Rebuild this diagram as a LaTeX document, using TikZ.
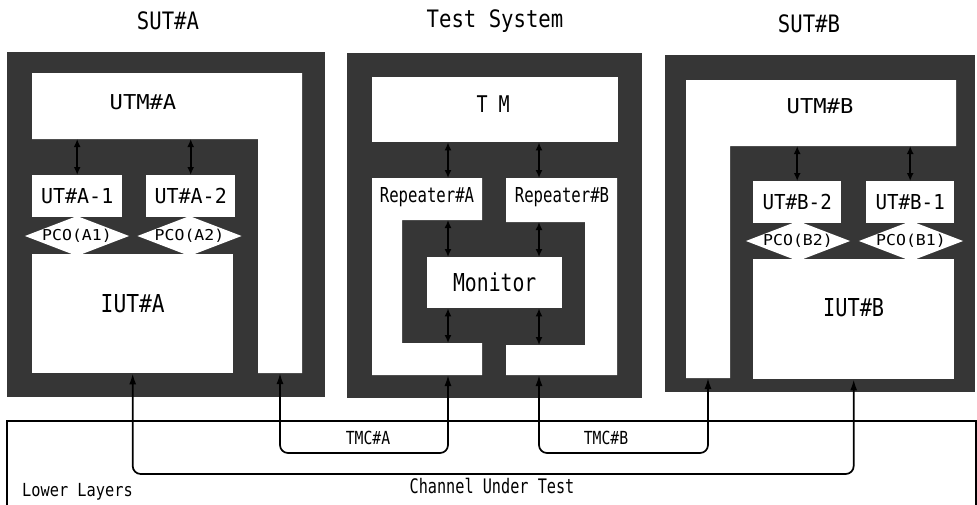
\documentclass[tikz,border=0pt]{standalone}
\usepackage{fontspec}
\usepackage{graphicx}
\setmainfont{DejaVu Sans Mono}
\usetikzlibrary{shapes.geometric,arrows.meta}
\newcommand{\lb}[3]{\fontsize{#1}{#1}\selectfont\scalebox{#2}[1]{#3}}
\begin{document}
\begin{tikzpicture}[x=1pt,y=-1pt,
  panel/.style={fill=black!79, draw=none, anchor=north west, inner sep=0pt},
  wbox/.style={fill=white, draw=none, anchor=north west, inner sep=0pt},
  txt/.style={inner sep=0pt, text=black},
  pco/.style={diamond, fill=white, draw=none, inner sep=0pt, aspect=2.6,
              minimum width=85pt, minimum height=32pt},
  dbl/.style={draw=black, line width=1.6pt, {Latex[length=8pt,width=7pt]}-{Latex[length=8pt,width=7pt]}},
  conn/.style={draw=black, line width=1.7pt, rounded corners=8pt,
               {Latex[length=11pt,width=7pt]}-{Latex[length=11pt,width=7pt]}}]
\useasboundingbox (0,0) rectangle (977,504);
\fill[white] (0,0) rectangle (977,504);

% ---------- titles
\node[txt] (tA) at (168,21) {\lb{24}{0.86}{SUT\#A}};
\node[txt] (tT) at (495,21) {\lb{24}{0.86}{Test System}};
\node[txt] (tB) at (809,24) {\lb{24}{0.86}{SUT\#B}};

% ---------- panels
\node[panel, minimum width=318pt, minimum height=345pt] (pA) at (7,52) {};
\node[panel, minimum width=295pt, minimum height=345pt] (pT) at (347,53) {};
\node[panel, minimum width=310pt, minimum height=337pt] (pB) at (665,55) {};

% ---------- SUT#A
\fill[white] (32,73) -- (302,73) -- (302,373) -- (258,373) -- (258,139) -- (32,139) -- cycle;
\node[txt] (utmA) at (143,102) {\lb{20.5}{1.08}{UTM\#A}};
\coordinate (utmAin) at (32,139);
\coordinate (utmAbot) at (280,373);
\node[wbox, minimum width=90pt, minimum height=42pt] (utA1) at (32,175) {};
\node[txt] at (utA1.center) {\lb{20.6}{0.97}{UT\#A-1}};
\node[wbox, minimum width=89pt, minimum height=42pt] (utA2) at (146,175) {};
\node[txt] at (utA2.center) {\lb{20.6}{0.97}{UT\#A-2}};
\node[pco] (pcoA1) at (77,236) {\lb{15}{1.1}{PCO(A1)}};
\node[pco] (pcoA2) at (189.5,236) {\lb{15}{1.1}{PCO(A2)}};
\node[wbox, minimum width=201pt, minimum height=119pt] (iutA) at (32,254) {};
\node[txt] at ([yshift=10pt]iutA.center) {\lb{24.7}{0.86}{IUT\#A}};
\draw[dbl] (utA1.north) -- (utA1.north |- utmAin);
\draw[dbl] (utA2.north) -- (utA2.north |- utmAin);

% ---------- Test System
\node[wbox, minimum width=246pt, minimum height=65pt] (tm) at (372,77) {};
\node[txt] at ([xshift=-2pt,yshift=6pt]tm.center) {\lb{23}{0.8}{T M}};
\fill[white] (372,178) -- (482,178) -- (482,220) -- (402,220) -- (402,343) -- (482,343) -- (482,375) -- (372,375) -- cycle;
\fill[white] (506,178) -- (617,178) -- (617,375) -- (506,375) -- (506,345) -- (585,345) -- (585,222) -- (506,222) -- cycle;
\node[txt] (repA) at (427,197) {\lb{20.6}{0.76}{Repeater\#A}};
\node[txt] (repB) at (562,197) {\lb{20.6}{0.76}{Repeater\#B}};
\node[wbox, minimum width=135pt, minimum height=51pt] (mon) at (427,257) {};
\node[txt] at (mon.center) {\lb{24.7}{0.8}{Monitor}};
\coordinate (repAtop) at (448,178);
\coordinate (repAin1) at (448,220);
\coordinate (repAin2) at (448,343);
\coordinate (repAbot) at (448,375);
\coordinate (repBtop) at (539,178);
\coordinate (repBin1) at (539,222);
\coordinate (repBin2) at (539,345);
\coordinate (repBbot) at (539,375);
\draw[dbl] (tm.south -| repAtop) -- (repAtop);
\draw[dbl] (tm.south -| repBtop) -- (repBtop);
\draw[dbl] (repAin1) -- (mon.north -| repAin1);
\draw[dbl] (repBin1) -- (mon.north -| repBin1);
\draw[dbl] (mon.south -| repAin2) -- (repAin2);
\draw[dbl] (mon.south -| repBin2) -- (repBin2);

% ---------- SUT#B
\fill[white] (686,80) -- (956,80) -- (956,146) -- (730,146) -- (730,378) -- (686,378) -- cycle;
\node[txt] (utmB) at (820,106) {\lb{20.5}{1.08}{UTM\#B}};
\coordinate (utmBin) at (956,146);
\coordinate (utmBbot) at (708,378);
\node[wbox, minimum width=88pt, minimum height=42pt] (utB2) at (753,181) {};
\node[txt] at (utB2.center) {\lb{20.6}{0.93}{UT\#B-2}};
\node[wbox, minimum width=88pt, minimum height=42pt] (utB1) at (866,181) {};
\node[txt] at (utB1.center) {\lb{20.6}{0.93}{UT\#B-1}};
\node[pco] (pcoB2) at (798,241) {\lb{15}{1.1}{PCO(B2)}};
\node[pco] (pcoB1) at (911,241) {\lb{15}{1.1}{PCO(B1)}};
\node[wbox, minimum width=201pt, minimum height=120pt] (iutB) at (753,259) {};
\node[txt] at ([yshift=12pt]iutB.center) {\lb{24.7}{0.82}{IUT\#B}};
\draw[dbl] (utB2.north) -- (utB2.north |- utmBin);
\draw[dbl] (utB1.north) -- (utB1.north |- utmBin);

% ---------- lower layers
\draw[line width=1.4pt] (7,506) -- (7,421) -- (976,421) -- (976,506);
\coordinate (chanY) at (0,474);
\coordinate (tmcY) at (0,453);
\draw[conn] (iutA.south) -- (iutA.south |- chanY) -| (iutB.south);
\draw[conn] (utmAbot) -- (utmAbot |- tmcY) -| (repAbot);
\draw[conn] (repBbot) -- (repBbot |- tmcY) -| (utmBbot);
\node[txt] (tmcA) at (368,438) {\lb{18}{0.82}{TMC\#A}};
\node[txt] (tmcB) at (606,438) {\lb{18}{0.82}{TMC\#B}};
\node[txt] (cut) at (492,486) {\lb{20}{0.76}{Channel Under Test}};
\node[txt, anchor=west] (ll) at (22,492) {\lb{18}{0.85}{Lower Layers}};
\end{tikzpicture}
\end{document}
